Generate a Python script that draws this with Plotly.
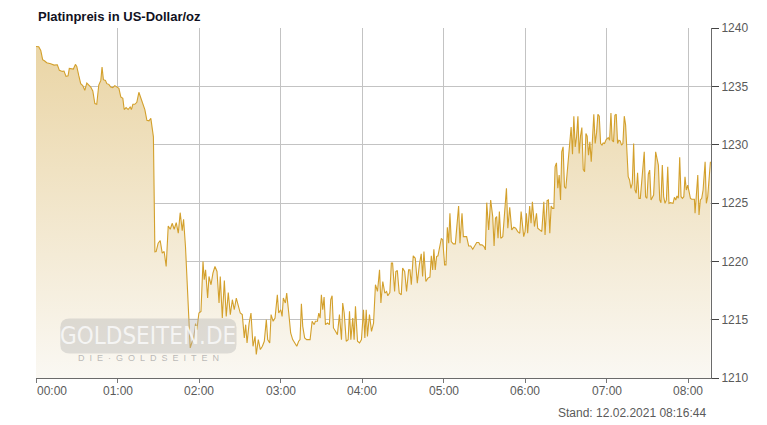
import plotly.graph_objects as go

# Minuten seit 00:00 und Platinpreis (USD/oz)
minutes = [
    0, 2.0, 3.5, 4.9, 6.4, 7.9, 10.8, 13.3, 15.7, 17.2, 19.4, 20.6, 22.1, 23.6, 24.5, 26.0,
    27.5, 29.0, 30.0, 31.5, 32.9, 34.4, 35.9, 37.4, 38.8, 40.3, 41.8, 43.3, 44.7, 46.2, 47.7,
    48.6, 49.6, 51.1, 52.1, 53.6, 55.0, 56.5, 58.0, 59.5, 61.0, 62.4, 63.9, 64.9, 66.3, 67.8,
    69.3, 70.2, 71.3, 72.7, 74.2, 75.7, 77.2, 78.6, 80.1, 81.6, 83.1, 84.5, 85.5, 86.4, 87.5,
    88.4, 89.9, 91.4, 92.9, 94.3, 95.8, 97.3, 98.8, 100.2, 101.7, 103.2, 104.7, 106.1, 107.6,
    108.6, 110.0, 111.5, 112.5, 113.5, 115.0, 115.9, 117.4, 118.4, 119.9, 121.4, 122.9, 123.8,
    124.8, 126.3, 127.3, 128.8, 130.2, 131.7, 133.2, 134.7, 135.6, 137.1, 138.6, 140.0, 141.5,
    143.0, 144.5, 145.9, 147.4, 148.9, 150.3, 151.8, 153.3, 154.3, 155.3, 156.8, 158.2, 159.7,
    161.2, 162.1, 163.6, 165.1, 166.6, 168.0, 169.5, 170.5, 172.0, 173.0, 174.5, 175.9,
    177.6, 178.6, 180.1, 181.1, 182.0, 183.5, 184.5, 186.0, 187.4, 188.9, 190.4, 191.9, 193.3,
    194.3, 195.3, 196.3, 197.7, 199.2, 201.7, 203.2, 204.7, 205.6, 207.1, 208.1, 209.1, 210.0,
    211.0, 212.0, 213.0, 214.5, 215.9, 216.9, 217.9, 218.9, 220.4, 221.8, 223.3, 224.8, 225.7,
    226.8, 228.3, 229.7, 230.7, 231.7, 233.1, 234.1, 235.1, 236.6, 238.1, 239.5, 241.0, 242.0,
    243.0, 243.9, 245.4, 246.9, 248.4, 249.8, 251.3, 252.8, 253.8, 255.2, 256.7,
    258.0, 258.9, 260.4, 261.5, 262.4, 263.9, 264.8, 265.9, 267.3, 268.8, 269.8, 271.3, 272.7,
    274.2, 275.2, 276.2, 277.6, 279.1, 280.6, 282.1, 283.5, 284.5, 285.5, 286.9, 288.4, 289.9,
    290.9, 291.9, 292.8, 293.8, 294.8, 295.8, 297.3, 298.3, 299.3, 300.7, 301.7, 302.7, 303.7,
    304.6, 305.6, 307.1, 308.6, 309.5, 311.0, 312.0, 313.5, 314.5, 315.5, 316.9, 318.4, 319.9,
    321.4, 322.8, 324.3, 325.8, 326.8, 328.2, 329.7, 330.7, 331.7, 333.1, 334.6, 336.1, 337.1,
    338.1, 339.0, 340.0, 341.0, 342.0, 343.5,
    346.2, 347.2, 348.6, 350.1, 351.6, 353.0, 354.5, 356.0, 357.0, 357.9, 358.9, 359.9, 360.9,
    361.8, 363.3, 364.3, 365.3, 366.8, 368.3, 369.2, 370.7, 372.2, 373.7, 374.6, 376.1, 377.1,
    378.1, 379.1, 380.1, 381.1, 382.0, 383.0, 384.0, 385.0, 386.0, 386.9, 387.9, 388.9, 389.9,
    390.9, 391.9, 392.9, 393.8, 394.8, 395.8, 396.8, 397.8, 398.8, 399.7, 400.7, 401.7, 402.7,
    403.7, 404.7, 405.6, 406.6, 407.6, 408.6, 409.6, 410.5, 411.5, 412.5, 413.5, 414.5, 415.5,
    416.5, 417.4, 418.4,
    419.6, 421.1, 422.1, 423.1, 424.0, 425.0, 426.0, 427.0, 428.0, 428.9, 429.9, 430.9, 431.9,
    432.9, 433.9, 434.9, 435.8, 436.8, 437.8, 438.8, 439.8, 440.8, 441.7, 442.7, 443.7, 444.7,
    445.7, 446.7, 447.6, 448.6, 449.6, 450.6, 451.6, 452.6, 453.5, 454.5, 456.0, 457.0, 458.0,
    459.0, 459.9, 460.9, 461.9, 462.9, 463.9, 464.9, 465.8, 466.8, 467.8, 468.8, 469.8, 470.8,
    471.7, 472.7, 473.7, 474.7, 475.7, 476.7, 477.6, 478.6, 479.6, 480.6, 481.6, 482.6, 483.5,
    484.5, 485.0, 486.0, 487.0, 487.9, 488.9, 489.9, 490.9, 492.4, 493.3, 494.3, 495.3, 496.3,
]

price = [
    1238.42, 1238.40, 1238.08, 1237.28, 1237.17, 1237.02, 1236.94, 1236.82, 1236.85, 1236.37,
    1236.28, 1236.31, 1235.85, 1235.91, 1236.54, 1236.54, 1236.48, 1236.88, 1236.71, 1235.91,
    1235.23, 1235.06, 1234.66, 1235.28, 1235.11, 1234.94, 1234.60, 1233.52, 1233.46, 1235.11,
    1235.51, 1236.65, 1235.57, 1235.51, 1235.23, 1235.17, 1234.94, 1234.89, 1235.06, 1234.94,
    1234.83, 1234.09, 1233.97, 1233.01, 1233.18, 1233.01, 1233.23, 1233.01, 1233.46, 1233.46,
    1233.63, 1234.49, 1234.03, 1233.63, 1233.01, 1232.09, 1232.04, 1232.26, 1231.24, 1230.67,
    1220.81,
    1220.84, 1221.56, 1221.78, 1220.70, 1220.84, 1219.56, 1223.03, 1222.75, 1223.26, 1222.75,
    1223.32, 1222.41, 1224.17, 1222.63, 1223.60, 1221.27, 1217.85, 1214.43, 1212.58, 1213.15,
    1213.29, 1214.66, 1214.15, 1215.57, 1215.71, 1219.98, 1218.42, 1219.27, 1216.85, 1218.70,
    1217.99, 1218.99, 1219.56, 1219.13, 1216.43, 1218.70, 1215.14, 1218.36, 1215.28, 1217.33,
    1215.43, 1216.71, 1215.85, 1216.85, 1216.14, 1215.57, 1215.43, 1213.44, 1214.57, 1213.00,
    1214.66, 1215.57, 1212.72, 1213.57, 1212.01, 1213.29, 1212.44, 1212.72, 1213.15, 1215.00,
    1213.29, 1213.00, 1215.43, 1214.86, 1215.14,
    1217.14, 1215.57, 1215.85, 1215.28, 1216.85, 1216.43, 1217.28, 1215.57, 1213.86, 1213.29,
    1213.00, 1212.72, 1213.15, 1213.29, 1216.37, 1214.43, 1213.44, 1213.29, 1213.29, 1214.86,
    1214.57, 1214.86, 1214.86, 1215.57, 1215.14, 1217.14, 1215.85, 1216.94, 1214.57, 1214.71,
    1214.57, 1216.71, 1217.05, 1214.29, 1214.00, 1213.72, 1215.43, 1213.29, 1216.43, 1215.57,
    1213.15, 1213.29, 1215.71, 1213.29, 1215.14, 1213.29, 1216.14, 1213.15, 1213.00, 1213.29,
    1215.85, 1213.44, 1215.85, 1213.57, 1215.43, 1214.00, 1214.71, 1217.99, 1217.42, 1219.27,
    1216.43, 1218.27, 1217.28,
    1217.42, 1217.05, 1217.33, 1219.85, 1219.85, 1217.42, 1219.13, 1219.22, 1217.28, 1217.14,
    1219.42, 1219.13, 1217.42, 1219.27, 1219.27, 1217.99, 1220.47, 1220.27, 1218.13, 1219.70,
    1220.64, 1218.70, 1220.84, 1218.27, 1218.56, 1218.65, 1220.47, 1219.27, 1221.04, 1219.27,
    1220.41, 1220.47, 1221.41, 1221.98, 1221.84, 1219.70, 1219.70, 1222.92, 1221.56, 1224.12,
    1221.70, 1221.50, 1221.50, 1222.98, 1224.74, 1221.56, 1224.12, 1222.12, 1222.12, 1222.12,
    1221.32, 1221.32, 1221.04, 1221.27, 1221.61, 1221.61, 1221.41, 1221.41, 1221.27, 1220.98,
    1225.03, 1222.69, 1225.26, 1223.83, 1221.32, 1223.69, 1223.83, 1221.98, 1224.26, 1221.98,
    1222.12,
    1226.26, 1222.84, 1224.63, 1222.69, 1222.92, 1222.84, 1222.55, 1222.41, 1224.26, 1223.26,
    1222.12, 1222.55, 1224.12, 1222.41, 1224.74, 1223.26, 1225.11, 1222.98, 1224.12, 1222.84,
    1222.69, 1222.55, 1225.11, 1222.26, 1225.20, 1225.26, 1222.41, 1224.74, 1224.54, 1224.54,
    1228.10, 1228.44, 1226.26, 1227.39, 1225.26, 1229.39, 1229.81, 1226.39, 1226.25, 1227.82,
    1229.10, 1230.10, 1231.52, 1229.19, 1232.44, 1229.81, 1230.67, 1232.44, 1229.25, 1230.73,
    1231.46, 1227.88, 1227.68, 1230.96, 1230.73, 1229.10, 1230.24, 1228.53, 1230.81, 1232.61,
    1230.10, 1231.01, 1232.61, 1232.44, 1230.10, 1229.96, 1230.15, 1230.10,
    1230.44, 1230.61, 1230.38, 1232.72, 1230.38, 1230.24, 1232.52, 1232.61, 1230.10, 1230.38,
    1230.32, 1229.96, 1230.10, 1232.44, 1231.67, 1229.67, 1227.25, 1226.97, 1226.26, 1226.68,
    1230.10, 1226.11, 1225.83, 1227.59, 1225.40, 1225.40, 1226.82, 1228.25, 1229.39, 1225.54,
    1225.40, 1227.48, 1227.82, 1225.26, 1225.54, 1225.68, 1229.39, 1228.82, 1228.25, 1225.26,
    1225.03, 1228.25, 1225.54, 1224.97, 1225.26, 1228.10, 1224.97, 1225.03, 1225.03, 1224.97,
    1225.49, 1225.26, 1225.60, 1225.40, 1228.91, 1225.54, 1225.40, 1225.54, 1227.25, 1226.11,
    1226.54, 1225.83, 1225.40, 1225.32, 1225.32, 1225.32, 1224.12, 1225.83, 1227.39, 1223.97,
    1225.26, 1225.40, 1226.11, 1228.53, 1224.97, 1225.54, 1227.25, 1228.53,
]

assert len(minutes) == len(price), (len(minutes), len(price))

hour_ticks = [0, 60, 120, 180, 240, 300, 360, 420, 480]
hour_labels = ['00:00', '01:00', '02:00', '03:00', '04:00', '05:00', '06:00', '07:00', '08:00']
price_ticks = [1210, 1215, 1220, 1225, 1230, 1235, 1240]
end_minute = 496.73  # 08:16:44

font = 'Liberation Sans, Arial, sans-serif'

fig = go.Figure()
fig.add_trace(go.Scatter(
    x=minutes, y=price, mode='lines',
    line={'color': '#d3a02c', 'width': 1.1},
    fill='tozeroy',
    fillgradient={'type': 'vertical', 'start': 1210, 'stop': 1240,
                  'colorscale': [[0, '#faf8f3'], [1, '#e9d3a1']]},
    hoverinfo='skip', showlegend=False,
))

annotations = []
# Zeitachse
for i, (t, lab) in enumerate(zip(hour_ticks, hour_labels)):
    annotations.append(dict(
        x=t, xref='x', y=0, yref='paper', yanchor='top', yshift=-4,
        xanchor='left' if i == 0 else 'center', xshift=-1 if i == 0 else 0,
        text=lab, showarrow=False, font={'family': font, 'size': 12, 'color': '#5a5a5a'}))

# Titel und Stand
annotations.append(dict(
    x=0, xref='paper', xanchor='left', xshift=0, y=1, yref='paper', yanchor='middle', yshift=12,
    text='<b>Platinpreis in US-Dollar/oz</b>', showarrow=False,
    font={'family': font, 'size': 13, 'color': '#111122'}))
annotations.append(dict(
    x=1, xref='paper', xanchor='right', xshift=-3, y=0, yref='paper', yanchor='middle', yshift=-35,
    text='Stand: 12.02.2021 08:16:44', showarrow=False,
    font={'family': font, 'size': 12, 'color': '#5a5a5a'}))

# Wasserzeichen
annotations.append(dict(
    x=0.166, xref='paper', xanchor='center', y=0.12, yref='paper', yanchor='middle',
    text='GOLDSEITEN.DE', showarrow=False,
    font={'family': 'DejaVu Sans Condensed, Liberation Sans Narrow, sans-serif', 'size': 24,
          'color': 'rgba(250,250,250,0.85)'}))
annotations.append(dict(
    x=0.166, xref='paper', xanchor='center', y=0.058, yref='paper', yanchor='middle',
    text='\u00a0\u00a0'.join('DIE·GOLDSEITEN'), showarrow=False,
    font={'family': font, 'size': 9, 'color': 'rgba(170,170,170,0.8)'}))

# Browserfenster hat 8px Rand um die Seite
fig.update_layout(
    width=759, height=417,
    margin={'l': 28, 'r': 56, 't': 20, 'b': 47, 'pad': 0},
    paper_bgcolor='white', plot_bgcolor='white',
    font={'family': font, 'size': 12, 'color': '#5a5a5a'},
    showlegend=False,
    annotations=annotations,
    shapes=[dict(
        type='path', xref='paper', yref='paper', layer='above',
        path='M 0.05,0.07 L 0.283,0.07 Q 0.297,0.07 0.297,0.095 L 0.297,0.145 '
             'Q 0.297,0.17 0.283,0.17 L 0.05,0.17 Q 0.036,0.17 0.036,0.145 '
             'L 0.036,0.095 Q 0.036,0.07 0.05,0.07 Z',
        fillcolor='rgba(175,175,175,0.38)', line={'width': 0})],
    xaxis={
        'range': [0, end_minute], 'tickvals': hour_ticks, 'showticklabels': False,
        'ticks': 'outside', 'ticklen': 4, 'tickcolor': '#777',
        'showgrid': True, 'gridcolor': '#c3c3c3', 'gridwidth': 1,
        'showline': True, 'linecolor': '#6b6b6b', 'linewidth': 1, 'zeroline': False,
        'fixedrange': True,
    },
    yaxis={
        'range': [1210, 1240], 'tickvals': price_ticks, 'side': 'right',
        'ticks': 'outside', 'ticklen': 7, 'tickcolor': '#444',
        'tickfont': {'family': font, 'size': 12, 'color': '#5a5a5a'},
        'showgrid': True, 'gridcolor': '#c3c3c3', 'gridwidth': 1,
        'showline': True, 'linecolor': '#6b6b6b', 'linewidth': 1, 'zeroline': False,
        'fixedrange': True,
    },
)

fig.write_html('out.html')
